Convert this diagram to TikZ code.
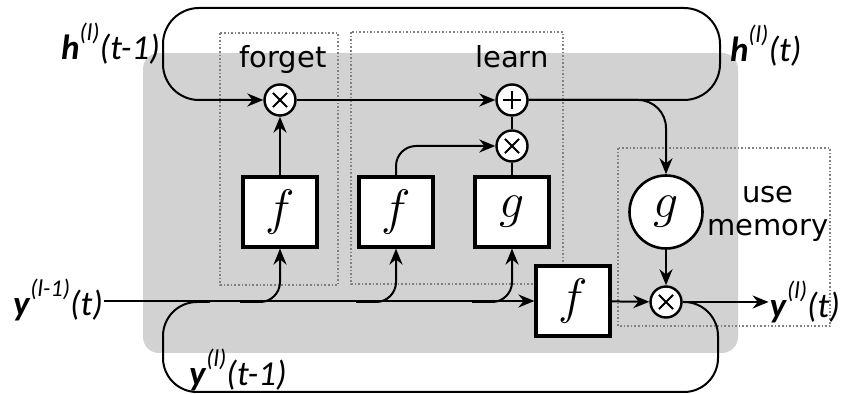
\documentclass[tikz,border=0pt]{standalone}
\usepackage{fontspec}
\setmainfont{DejaVu Sans}
\newfontfamily\lblfont{Carlito}
\usetikzlibrary{arrows.meta}
\definecolor{cellgray}{RGB}{210,210,210}
\newcommand{\bvar}[1]{\textbf{\textit{#1}}}
\newcommand{\upidx}[1]{\raisebox{1.15ex}{\fontsize{12}{12}\selectfont\textit{#1}}}

\begin{document}
\begin{tikzpicture}[x=0.5pt, y=-0.5pt, line width=1pt, >={Stealth[length=8pt,width=6.5pt]}]
        \tikzstyle{box}=[draw, line width=1.6pt, fill=white, minimum width=37pt, minimum height=35pt, inner sep=0pt, font=\fontsize{30}{30}\selectfont]
        \tikzstyle{op}=[draw, circle, line width=1.2pt, fill=white, minimum size=15.5pt, inner sep=0pt]
        \tikzstyle{mul}=[op, path picture={\draw[line width=1pt] ([shift={(45:5pt)}]path picture bounding box.center) -- ([shift={(225:5pt)}]path picture bounding box.center) ([shift={(135:5pt)}]path picture bounding box.center) -- ([shift={(315:5pt)}]path picture bounding box.center);}]
        \tikzstyle{add}=[op, path picture={\draw[line width=1pt] ([shift={(0:4.5pt)}]path picture bounding box.center) -- ([shift={(180:4.5pt)}]path picture bounding box.center) ([shift={(90:4.5pt)}]path picture bounding box.center) -- ([shift={(270:4.5pt)}]path picture bounding box.center);}]
        \tikzstyle{group}=[draw=gray, densely dotted, line width=0.8pt]
        \tikzstyle{var}=[inner sep=0pt, font=\lblfont\fontsize{17.5}{17.5}\selectfont]
        \tikzstyle{tag}=[inner sep=0pt, font=\fontsize{14.5}{16.5}\selectfont]
        \useasboundingbox (0,0) rectangle (845,394);
        \fill[cellgray, rounded corners=8pt] (143,53) rectangle (738,353);
        \draw[group] (220,33) rectangle (338,285);
        \draw[group] (351,32) rectangle (563,284);
        \draw[group] (618,148) rectangle (830,326);
        \node[tag, anchor=base] (forget) at (283,68) {forget};
        \node[tag, anchor=base] (learn) at (512,68) {learn};
        \node[tag, align=center] (usemem) at (768,214) {use\\memory};
        \node[mul] (mulF) at (280,100) {};
        \node[add] (add) at (512,100) {};
        \node[mul] (mulL) at (512,146) {};
        \node[box] (fF) at (280,212) {$f$};
        \node[box] (fL) at (396,212) {$f$};
        \node[box] (gL) at (512,212) {$g$};
        \node[box] (fO) at (573,301) {$f$};
        \node[draw, circle, line width=1.3pt, fill=white, minimum size=36.5pt, inner sep=0pt, font=\fontsize{30}{30}\selectfont] (gO) at (666,212) {$g$};
        \node[mul] (mulO) at (666,302) {};
        \node[var, anchor=east] (hprev) at (161,44) {\bvar{h}\upidx{(l)}\textit{(t-1)}};
        \node[var, anchor=west] (hcur) at (729,46) {\bvar{h}\upidx{(l)}\textit{(t)}};
        \node[var, anchor=east] (yin) at (104,300) {\bvar{y}\upidx{(l-1)}\textit{(t)}};
        \node[var, anchor=east] (yout) at (841,302) {\bvar{y}\upidx{(l)}\textit{(t)}};
        \node[var, anchor=west] (yprev) at (188,370) {\bvar{y}\upidx{(l)}\textit{(t-1)}};
        \coordinate (bF) at (240,302);
        \coordinate (bL) at (356,302);
        \coordinate (bG) at (472,302);
        \coordinate (join) at (210,302);
        \draw[->] (mulF) -- (add);
        \draw[->, rounded corners=18pt] (add.east) -- (720,100) -- (720,8) -- (163,8) -- (163,100) -- (mulF.west);
        \draw[->, rounded corners=14pt] (add.east) -- (gO.north |- add) -- (gO.north);
        \draw[->] (fF) -- (mulF);
        \draw[->, rounded corners=10pt] (fL.north) -- (fL.north |- mulL) -- (mulL.west);
        \draw (gL) -- (mulL);
        \draw (mulL) -- (add);
        \draw[->] (gO) -- (mulO);
        \draw[->] (yin.east |- fO.west) -- (fO.west);
        \draw[->, rounded corners=10pt] (bF) -- (bF -| fF.south) -- (fF.south);
        \draw[->, rounded corners=10pt] (bL) -- (bL -| fL.south) -- (fL.south);
        \draw[->, rounded corners=10pt] (bG) -- (bG -| gL.south) -- (gL.south);
        \draw[->] (fO) -- (mulO);
        \draw[->] (mulO) -- (yout.west |- mulO);
        \draw[rounded corners=17pt] (mulO.east) -- (718,302) -- (718,392) -- (163,392) -- (163,302) -- (join);
\end{tikzpicture}
\end{document}
